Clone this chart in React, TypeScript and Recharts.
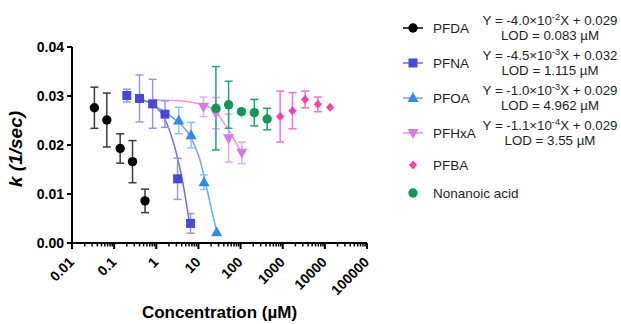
import { ComposedChart, Scatter, Line, XAxis, YAxis, ErrorBar, Label } from 'recharts';

// measured points (concentration in µM, k in 1/sec, error = ± SD)
const pfdaConc = [0.034, 0.067, 0.139, 0.273, 0.54];
const pfdaK = [0.0276, 0.0251, 0.0193, 0.0166, 0.0086];
const pfdaErr = [0.0042, 0.0055, 0.003, 0.0043, 0.0024];

const pfnaConc = [0.2, 0.4, 0.82, 1.61, 3.2, 6.5];
const pfnaK = [0.0301, 0.0295, 0.0284, 0.0263, 0.0131, 0.004];
const pfnaErr = [0.0013, 0.0048, 0.005, 0.0027, 0.0042, 0.002];

const pfoaConc = [3.4, 6.7, 13.6, 27];
const pfoaK = [0.025, 0.022, 0.0124, 0.0022];
const pfoaErr = [0.0027, 0.0026, 0.0015, 0];

const pfhxaConc = [13.2, 26, 52, 107];
const pfhxaK = [0.0278, 0.0265, 0.0214, 0.0184];
const pfhxaErr = [0.002, 0.0032, 0.0049, 0.0022];

const pfbaConc = [870, 1700, 3400, 6800, 13300];
const pfbaK = [0.0258, 0.027, 0.0293, 0.0283, 0.0277];
const pfbaErr = [0.0052, 0.0037, 0.0017, 0.0015, 0];

const nonanoicConc = [26, 52, 105, 212, 427];
const nonanoicK = [0.0275, 0.0282, 0.0268, 0.0266, 0.0253];
const nonanoicErr = [0.0085, 0.0048, 0, 0.0027, 0.0022];

// fitted curves
const pfnaFitConc = [0.47, 0.82, 1.7, 2.94, 4.23, 5.56, 6.1];
const pfnaFitK = [0.0292, 0.0283, 0.0248, 0.0186, 0.0125, 0.0064, 0.0041];

const pfoaFitConc = [0.82, 2.44, 6.1, 10.6, 15.2, 21.9, 27.3];
const pfoaFitK = [0.0282, 0.0256, 0.022, 0.0173, 0.0118, 0.0057, 0.0023];

const pfhxaFitConc = [0.82, 2.7, 12.6, 24, 42, 72, 104];
const pfhxaFitK = [0.0292, 0.0291, 0.0282, 0.0271, 0.0243, 0.021, 0.0184];

const xTickLabels = ['0.01', '0.1', '1', '10', '100', '1000', '10000', '100000'];
const yTicks = [0, 0.01, 0.02, 0.03, 0.04];

const legendNames = ['PFDA', 'PFNA', 'PFOA', 'PFHxA', 'PFBA', 'Nonanoic acid'];
const eqSlopes = ['-4.0', '-4.5', '-1.0', '-1.1'];
const eqExponents = ['-2', '-3', '-3', '-4'];
const eqIntercepts = ['0.029', '0.032', '0.029', '0.029'];
const lods = ['0.083', '1.115', '4.962', '3.55'];

const FONT = '"Liberation Sans", Arial, sans-serif';

const majorTicks = xTickLabels.map(Number);
const allTicks: number[] = [];
majorTicks.forEach((m, i) => {
  allTicks.push(m);
  if (i < majorTicks.length - 1) for (let k = 2; k <= 9; k++) allTicks.push(+(m * k).toPrecision(3));
});

const pts = (xs: number[], ys: number[], errs?: number[]) =>
  xs.map((x, i) => ({ x, y: ys[i], err: errs ? errs[i] : 0 }));

type Kind = 'circle' | 'square' | 'triangle' | 'down' | 'diamond';

const series = [
  { name: 'PFDA', data: pts(pfdaConc, pfdaK, pfdaErr), kind: 'circle' as Kind, color: '#000000', err: '#3a3a3a', line: '#000000' },
  { name: 'PFNA', data: pts(pfnaConc, pfnaK, pfnaErr), kind: 'square' as Kind, color: '#4848DA', err: '#9595EE', line: '#6E6EE2' },
  { name: 'PFOA', data: pts(pfoaConc, pfoaK, pfoaErr), kind: 'triangle' as Kind, color: '#2E8CF0', err: '#8CC2F8', line: '#6AAAF4' },
  { name: 'PFHxA', data: pts(pfhxaConc, pfhxaK, pfhxaErr), kind: 'down' as Kind, color: '#D57AE6', err: '#E7A8F1', line: '#E196EE' },
  { name: 'PFBA', data: pts(pfbaConc, pfbaK, pfbaErr), kind: 'diamond' as Kind, color: '#FF3DAE', err: '#FF6FC3', line: '' },
  { name: 'Nonanoic acid', data: pts(nonanoicConc, nonanoicK, nonanoicErr), kind: 'circle' as Kind, color: '#0E985A', err: '#1BA86C', line: '' },
];

const fits = [
  { data: pts(pfnaFitConc, pfnaFitK), color: '#6E6EE2' },
  { data: pts(pfoaFitConc, pfoaFitK), color: '#6AAAF4' },
  { data: pts(pfhxaFitConc, pfhxaFitK), color: '#E196EE' },
];

const Marker = ({ cx, cy, kind, color }: { cx: number; cy: number; kind: Kind; color: string }) => {
  if (cx == null || cy == null) return null;
  switch (kind) {
    case 'square':
      return <rect x={cx - 4.5} y={cy - 4.5} width={9} height={9} fill={color} />;
    case 'triangle':
      return <polygon points={`${cx},${cy - 6} ${cx + 5.5},${cy + 4} ${cx - 5.5},${cy + 4}`} fill={color} />;
    case 'down':
      return <polygon points={`${cx},${cy + 6} ${cx + 5.5},${cy - 4} ${cx - 5.5},${cy - 4}`} fill={color} />;
    case 'diamond':
      return <polygon points={`${cx},${cy - 4.5} ${cx + 4},${cy} ${cx},${cy + 4.5} ${cx - 4},${cy}`} fill={color} />;
    default:
      return <circle cx={cx} cy={cy} r={4.7} fill={color} />;
  }
};

const XTick = (props: any) => {
  const { x, y, payload } = props;
  const idx = majorTicks.indexOf(payload.value);
  const major = idx >= 0;
  return (
    <g>
      <line x1={x} x2={x} y1={y} y2={y + (major ? 6 : 3.5)} stroke="#000" strokeWidth={major ? 2 : 1.5} />
      {major && (
        <text
          x={x + 3}
          y={y + 20}
          transform={`rotate(-45 ${x + 3} ${y + 20})`}
          textAnchor="end"
          fontFamily={FONT}
          fontWeight="bold"
          fontSize={14}
          fill="#000"
        >
          {xTickLabels[idx]}
        </text>
      )}
    </g>
  );
};

const LegendIcon = ({ kind, color, line }: { kind: Kind; color: string; line: string }) => (
  <svg width={24} height={14} style={{ display: 'block' }}>
    {line && <line x1={2} x2={22} y1={7} y2={7} stroke={line} strokeWidth={1.5} />}
    <Marker cx={12} cy={7} kind={kind} color={color} />
  </svg>
);

const ChartLegend = () => {
  const rowY = [28, 63, 98, 133, 165, 193];
  return (
    <>
      {series.map((s, i) => (
        <div key={s.name} style={{ position: 'absolute', left: 401, top: rowY[i] - 9, height: 18, display: 'flex', alignItems: 'center' }}>
          <LegendIcon kind={s.kind} color={s.color} line={s.line} />
          <span style={{ marginLeft: 8, fontFamily: FONT, fontSize: 13.5, color: '#1e1e1e', whiteSpace: 'nowrap' }}>
            {legendNames[i]}
          </span>
        </div>
      ))}
      {eqSlopes.map((slope, i) => (
        <div
          key={i}
          style={{
            position: 'absolute',
            left: 470,
            width: 160,
            top: rowY[i] - 15,
            textAlign: 'center',
            fontFamily: FONT,
            fontSize: 13.3,
            lineHeight: '15px',
            color: '#1e1e1e',
            whiteSpace: 'nowrap',
          }}
        >
          <div>
            Y = {slope}×10<sup style={{ fontSize: '70%', lineHeight: 0, verticalAlign: '0.5em' }}>{eqExponents[i]}</sup>X + {eqIntercepts[i]}
          </div>
          <div>LOD = {lods[i]} µM</div>
        </div>
      ))}
    </>
  );
};

export default function App() {
  return (
    <div style={{ position: 'absolute', left: 0, top: 0, width: 621, height: 324, background: '#fff' }}>
      <ComposedChart width={621} height={324} margin={{ top: 47, right: 254, bottom: 0, left: 0 }}>
        <XAxis
          dataKey="x"
          type="number"
          scale="log"
          domain={[0.01, 100000]}
          allowDataOverflow
          ticks={allTicks}
          interval={0}
          tick={XTick}
          tickLine={false}
          tickSize={0}
          tickMargin={0}
          axisLine={{ stroke: '#000', strokeWidth: 2 }}
          height={81}
        >
          <Label
            content={(p: any) => {
              const vb = p.viewBox;
              return (
                <text x={vb.x + vb.width / 2} y={vb.y + vb.height - 6} textAnchor="middle" fontFamily={FONT} fontWeight="bold" fontSize={17} fill="#000">
                  Concentration (µM)
                </text>
              );
            }}
          />
        </XAxis>
        <YAxis
          type="number"
          domain={[0, 0.04]}
          ticks={yTicks}
          tickFormatter={(v: number) => v.toFixed(2)}
          tick={{ fontFamily: FONT, fontWeight: 'bold', fontSize: 14, fill: '#000' }}
          tickLine={{ stroke: '#000', strokeWidth: 2 }}
          tickSize={5}
          tickMargin={3}
          axisLine={{ stroke: '#000', strokeWidth: 2 }}
          width={72}
        >
          <Label
            content={(p: any) => {
              const vb = p.viewBox;
              const lx = vb.x + 22;
              const ly = vb.y + vb.height / 2 + 4;
              return (
                <text x={lx} y={ly} transform={`rotate(-90 ${lx} ${ly})`} textAnchor="middle" fontFamily={FONT} fontWeight="bold" fontStyle="italic" fontSize={19} fill="#000">
                  k (1/sec)
                </text>
              );
            }}
          />
        </YAxis>
        {fits.map((f, i) => (
          <Line key={`fit${i}`} data={f.data} dataKey="y" type="monotone" dot={false} stroke={f.color} strokeWidth={1.5} isAnimationActive={false} legendType="none" />
        ))}
        {series.map((s) => (
          <Scatter
            key={s.name}
            name={s.name}
            data={s.data}
            dataKey="y"
            isAnimationActive={false}
            shape={(p: any) => <Marker cx={p.cx} cy={p.cy} kind={s.kind} color={s.color} />}
          >
            <ErrorBar dataKey="err" direction="y" width={4} stroke={s.err} strokeWidth={1.5} />
          </Scatter>
        ))}
      </ComposedChart>
      <ChartLegend />
    </div>
  );
}
